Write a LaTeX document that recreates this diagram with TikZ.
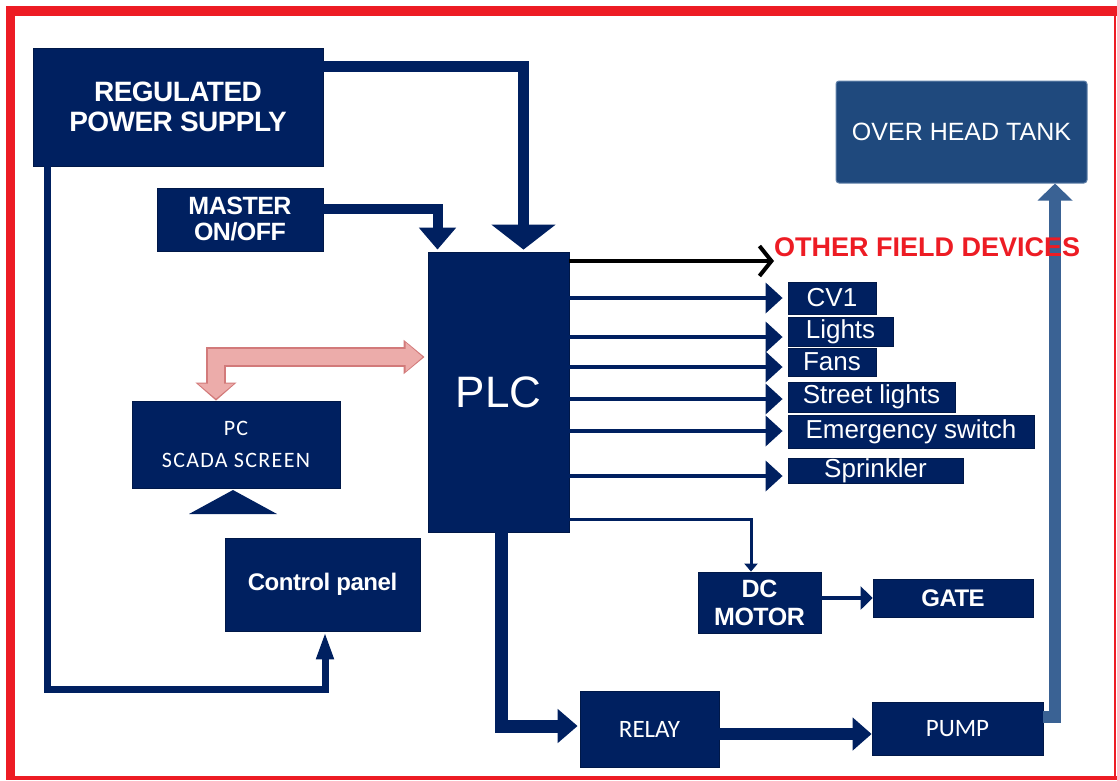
\documentclass[tikz,border=0pt]{standalone}
\usepackage{fontspec}
\setmainfont{Liberation Sans}
\newfontfamily\tightsans[LetterSpace=-2]{Liberation Sans}
\newfontfamily\calsans{Carlito}
\newfontfamily\scadasans[LetterSpace=6]{Carlito}
\usetikzlibrary{arrows.meta, positioning, calc}
\definecolor{plcnavy}{RGB}{0,32,96}
\definecolor{tankblue}{RGB}{31,73,125}
\definecolor{pipeblue}{RGB}{58,98,148}
\definecolor{framered}{RGB}{237,28,36}
\definecolor{pinkfill}{RGB}{236,172,170}
\definecolor{pinkedge}{RGB}{210,122,122}

\begin{document}
\begin{tikzpicture}[x=1pt, y=-1pt,
	navybox/.style={fill=plcnavy, draw=plcnavy!75!black, line width=0.8pt, text=white, inner sep=0pt, align=center},
	devbox/.style={navybox, font=\fontsize{26}{28}\selectfont},
	devarrow/.style={draw=plcnavy, line width=4pt, -{Triangle[width=30pt,length=17pt]}, shorten >=5pt}]
		\useasboundingbox (0,0) rectangle (1117,780);
		% red frame
		\fill[framered] (6,6) rectangle (1117,16);
		\fill[framered] (6,6) rectangle (15,780);
		\fill[framered] (6,776) rectangle (1117,779.5);
		\fill[framered] (1114,6) rectangle (1116,780);
		% blocks
		\node[navybox, minimum width=290pt, minimum height=118pt, font=\tightsans\bfseries\fontsize{28}{30}\selectfont] (rps) at (178,107) {REGULATED\\POWER SUPPLY};
		\node[navybox, minimum width=166pt, minimum height=63pt, font=\tightsans\bfseries\fontsize{25}{26}\selectfont] (master) at (240,219.5) {MASTER\\ON/OFF};
		\node[navybox, minimum width=141pt, minimum height=280pt, font=\fontsize{44}{44}\selectfont] (plc) at (498.5,392) {PLC};
		\node[navybox, minimum width=208pt, minimum height=87pt, font=\scadasans\fontsize{22}{32}\selectfont] (pc) at (236,444.5) {PC\\SCADA SCREEN};
		\fill[plcnavy] (189,514) -- (277,514) -- (233,490) -- cycle;
		\node[navybox, minimum width=195pt, minimum height=93pt, font=\tightsans\bfseries\fontsize{24}{26}\selectfont] (cp) at (322.5,584.5) {Control panel};
		\node[devbox, minimum width=88pt, minimum height=32pt] (cv1) at (832,298) {CV1};
		\node[devbox, minimum width=105pt, minimum height=29pt] (lights) at (840.5,331.5) {Lights};
		\node[devbox, minimum width=88pt, minimum height=28pt] (fans) at (832,362) {Fans};
		\node[devbox, minimum width=167pt, minimum height=30pt] (street) at (871.5,397) {Street lights};
		\node[devbox, minimum width=246pt, minimum height=33pt] (emerg) at (911,431.5) {Emergency switch};
		\node[devbox, minimum width=175pt, minimum height=25pt] (sprink) at (875.5,470.5) {Sprinkler};
		\node[navybox, minimum width=123pt, minimum height=61pt, font=\tightsans\bfseries\fontsize{25}{28}\selectfont] (dc) at (759.5,602.5) {DC\\MOTOR};
		\node[navybox, minimum width=160pt, minimum height=38pt, font=\tightsans\bfseries\fontsize{24}{26}\selectfont] (gate) at (953,598) {GATE};
		\node[navybox, minimum width=139pt, minimum height=76pt, font=\calsans\fontsize{25}{27}\selectfont] (relay) at (649.5,729) {RELAY};
		\node[navybox, minimum width=171pt, minimum height=53pt, font=\calsans\fontsize{25}{27}\selectfont] (pump) at (957.5,728.5) {PUMP};
		\node[fill=tankblue, draw=pipeblue!80!white, rounded corners=3pt, line width=1pt, text=white, inner sep=0pt, minimum width=251pt, minimum height=102pt, font=\fontsize{25}{27}\selectfont] (tank) at (961.5,132) {OVER HEAD TANK};
		% supply and switch into the PLC
		\draw[plcnavy, line width=11pt, -{Triangle[width=63pt,length=25pt]}, shorten >=2pt] (rps.east |- 0,66) -| ([xshift=25pt]plc.north);
		\draw[plcnavy, line width=10pt, -{Triangle[width=36pt,length=22pt]}, shorten >=2pt] (master.east |- 0,209) -| ([xshift=-61pt]plc.north);
		% scada link
		\draw[pinkedge, line width=20pt, {Triangle[width=40pt,length=18pt]}-{Triangle[width=33pt,length=21pt]}, shorten >=3pt] ([xshift=-20pt]pc.north) |- (plc.west |- 0,357);
		\draw[pinkfill, line width=16pt, {Triangle[width=35pt,length=15pt]}-{Triangle[width=28pt,length=17pt]}, shorten >=5pt, shorten <=2pt] ([xshift=-20pt]pc.north) |- (plc.west |- 0,357);
		% outputs
		\foreach \dev/\yy in {cv1/298, lights/337, fans/367, street/399, emerg/431, sprink/476}
			\draw[devarrow] (plc.east |- 0,\yy) -- (\dev.west |- 0,\yy);
		\draw[plcnavy, line width=3pt, -{Triangle[width=13pt,length=8pt]}] (plc.east |- 0,519) -| ([xshift=-8.5pt]dc.north);
		\draw[plcnavy, line width=4pt, -{Triangle[width=23pt,length=12pt]}] (dc.east |- gate.west) -- (gate.west);
		\draw[plcnavy, line width=13pt, -{Triangle[width=33pt,length=20pt]}, shorten >=2pt] ([xshift=2.5pt]plc.south) |- (relay.west |- 0,726);
		\draw[plcnavy, line width=12pt, -{Triangle[width=32pt,length=19pt]}] (relay.east |- 0,734) -- (pump.west |- 0,734);
		\draw[pipeblue, line width=12pt, -{Triangle[width=34pt,length=17pt]}] (pump.east |- 0,717) -| ([xshift=93.5pt]tank.south);
		% supply to control panel
		\coordinate (cpbend) at (47,689);
		\draw[plcnavy, line width=7pt, -{Triangle[width=16pt,length=28pt]}] (rps.south -| cpbend) -- (cpbend) -| ([xshift=2.5pt]cp.south);
		% other devices
		\node[anchor=west, inner sep=0pt, text=framered, font=\bfseries\fontsize{27}{27}\selectfont] (other) at (774,247) {OTHER FIELD DEVICES};
		\draw[black, line width=4pt, -{Straight Barb[length=12pt,width=30pt]}] (plc.east |- 0,261) -- (other.west |- 0,261);
	\end{tikzpicture}
\end{document}
